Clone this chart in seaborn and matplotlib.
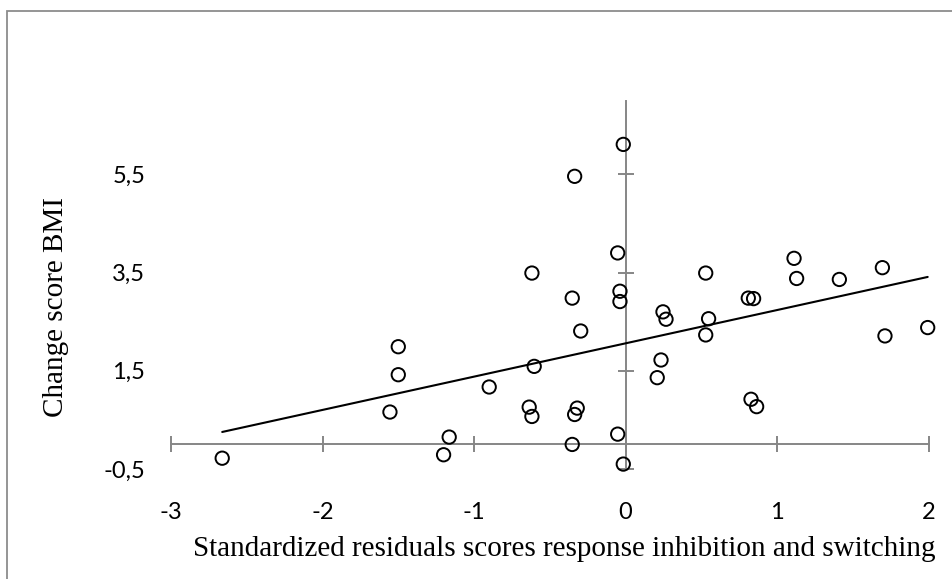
import matplotlib
matplotlib.use("Agg")
import matplotlib.pyplot as plt
from matplotlib.patches import Rectangle
import seaborn as sns
import pandas as pd

# Standardized residual scores (response inhibition and switching) and BMI change
resid_scores = [-2.662, -1.555, -1.500, -1.500, -1.201, -1.164, -0.900, -0.636,
                -0.618, -0.618, -0.603, -0.352, -0.352, -0.336, -0.336, -0.319,
                -0.296, -0.052, -0.052, -0.037, -0.037, -0.015, -0.015, 0.209,
                0.234, 0.247, 0.267, 0.529, 0.548, 0.529, 0.810, 0.845,
                0.828, 0.865, 1.112, 1.129, 1.411, 1.695, 1.712, 1.994]
bmi_change = [-0.28, 0.66, 1.99, 1.42, -0.21, 0.15, 1.17, 0.76,
              0.57, 3.49, 1.59, 2.98, 0.00, 5.46, 0.61, 0.74,
              2.31, 3.90, 0.21, 3.12, 2.91, 6.11, -0.40, 1.36,
              1.72, 2.70, 2.55, 3.49, 2.56, 2.23, 2.98, 2.97,
              0.92, 0.77, 3.79, 3.38, 3.36, 3.60, 2.21, 2.38]

x_ticks = [-3, -2, -1, 0, 1, 2]
x_tick_labels = ["-3", "-2", "-1", "0", "1", "2"]
y_ticks = [-0.5, 1.5, 3.5, 5.5]
y_tick_labels = ["-0,5", "1,5", "3,5", "5,5"]

df = pd.DataFrame({"resid": resid_scores, "bmi": bmi_change})

sns.set_theme(style="white")
plt.rcParams["font.family"] = ["Lato", "DejaVu Sans"]

W, H = 953, 579
fig = plt.figure(figsize=(W / 100, H / 100), dpi=100)
ax = fig.add_axes([171 / W, 1 - 469 / H, (928.6 - 171) / W, (469 - 100.7) / H])

axis_grey = "#868686"

sns.scatterplot(data=df, x="resid", y="bmi", ax=ax, marker="o", s=92,
                facecolor="none", edgecolor="black", linewidth=1.4, zorder=3,
                clip_on=False)
sns.regplot(data=df, x="resid", y="bmi", ax=ax, scatter=False, ci=None,
            color="black", line_kws={"lw": 1.5, "zorder": 4})

ax.set_xlim(-3, 2)
ax.set_ylim(-0.5, 7.0)

# Axes cross at the origin
ax.spines["left"].set_position(("data", 0))
ax.spines["bottom"].set_position(("data", 0))
for side in ("top", "right"):
    ax.spines[side].set_visible(False)
for side in ("left", "bottom"):
    ax.spines[side].set_color(axis_grey)
    ax.spines[side].set_linewidth(1.4)

ax.set_xticks(x_ticks)
ax.set_yticks(y_ticks)
ax.tick_params(direction="inout", length=12, width=1.4, color=axis_grey,
               labelbottom=False, labelleft=False, bottom=True, left=True)

# Tick labels sit at the low edge of the plot area
secx = ax.secondary_xaxis("bottom")
secx.set_xticks(x_ticks, labels=x_tick_labels)
secx.tick_params(length=0, pad=24, labelsize=17, labelcolor="black")
secx.spines["bottom"].set_visible(False)

secy = ax.secondary_yaxis("left")
secy.set_yticks(y_ticks, labels=y_tick_labels)
secy.tick_params(length=0, pad=18.5, labelsize=17, labelcolor="black")
secy.spines["left"].set_visible(False)

serif = ["Liberation Serif", "DejaVu Serif"]
ax.set_xlabel("Standardized residuals scores response inhibition and switching",
              fontsize=21, family=serif, color="black", va="baseline")
ax.xaxis.set_label_coords((564.5 - 171) / (928.6 - 171), (469 - 556) / (469 - 100.7))
ax.set_ylabel("Change score BMI", fontsize=21, family=serif, color="black",
              va="center", ha="center")
ax.yaxis.set_label_coords((56 - 171) / (928.6 - 171), (469 - 306.7) / (469 - 100.7))

# Chart-area frame
fig.add_artist(Rectangle((6.5 / W, -1), 2, 2 - 10.5 / H, transform=fig.transFigure,
                         fill=False, edgecolor="#8c8c8c", linewidth=1.3, clip_on=False))

fig.savefig("out.png", dpi=100)
